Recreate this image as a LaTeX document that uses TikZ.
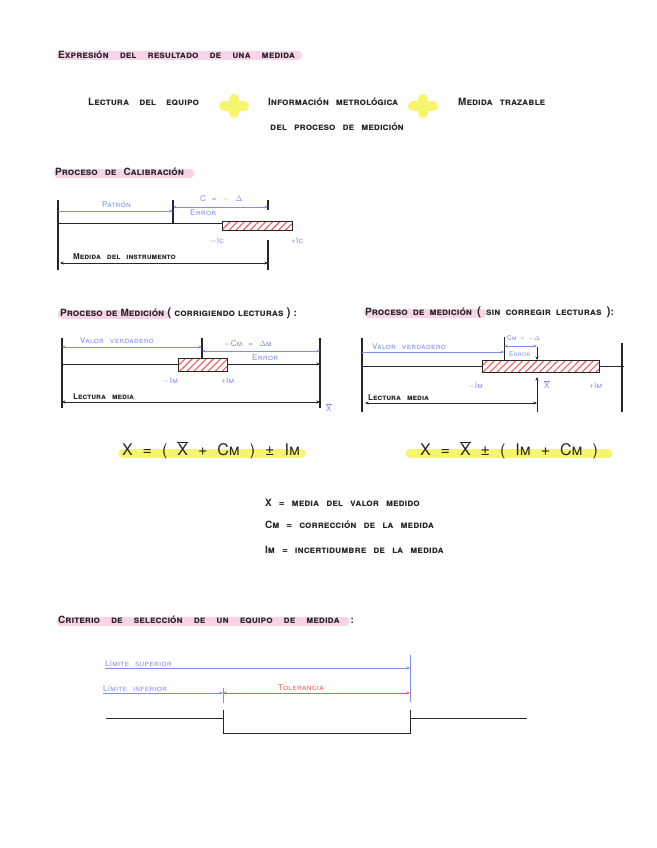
\documentclass[tikz,border=0pt]{standalone}
\usepackage{fontspec}
\setmainfont{TeX Gyre Heros}
\usetikzlibrary{patterns.meta,arrows.meta}
\definecolor{hpink}{HTML}{F9D3E8}
\definecolor{hyellow}{HTML}{F7F56E}
\definecolor{hblue}{HTML}{7F8DF2}
\definecolor{hred}{HTML}{F25A5A}
\newcommand\hwfont{\fontsize{10}{11}\selectfont\bfseries\scshape\spaceskip=7pt\relax}
\newcommand\hwfontn{\fontsize{10}{11}\selectfont\bfseries\scshape\spaceskip=5pt\relax}
\newcommand\hwsmall{\fontsize{8}{9}\selectfont\scshape\addfontfeatures{LetterSpace=4}\spaceskip=6pt\relax}
\newcommand\hwsmallb{\fontsize{8}{9}\selectfont\bfseries\scshape\spaceskip=6pt\relax}
\newcommand\hwtiny{\fontsize{6.5}{7}\selectfont\scshape\addfontfeatures{LetterSpace=4}\spaceskip=4pt\relax}
\newcommand\hwform{\fontsize{16}{18}\selectfont\scshape\spaceskip=10pt\relax}
\newcommand\xbar{$\overline{\mbox{X}}$}
\tikzset{
 x=1pt,y=-1pt,
 hw/.style={inner sep=0pt, anchor=west, font=\hwfont, text=black!85},
 hwn/.style={inner sep=0pt, anchor=west, font=\hwfontn, text=black!85},
 hws/.style={inner sep=0pt, anchor=west, font=\hwsmallb, text=black!85},
 bl/.style={inner sep=0pt, anchor=west, font=\hwsmall, text=hblue},
 blt/.style={inner sep=0pt, anchor=west, font=\hwtiny, text=hblue},
 rl/.style={inner sep=0pt, anchor=west, font=\hwsmall, text=hred},
 frm/.style={inner sep=0pt, font=\hwform, text=black!85},
 ln/.style={line width=0.9pt, black!85},
 bar/.style={line width=1.3pt, black!85},
 barr/.style={hblue, line width=0.7pt},
 tip/.style={-{Stealth[length=3.5pt,width=3pt]}},
 tips/.style={{Stealth[length=3.5pt,width=3pt]}-{Stealth[length=3.5pt,width=3pt]}},
 hatch/.style={draw=black!85, line width=0.9pt, pattern={Lines[angle=45,distance=5pt,line width=1.1pt]}, pattern color=hred},
 hlp/.style={line width=9pt, line cap=round, hpink},
 hly/.style={line width=9pt, line cap=round, hyellow},
 plusarm/.style={line width=10pt, line cap=round, hyellow},
}
\begin{document}
\begin{tikzpicture}
\useasboundingbox (0,0) rectangle (656,848);
% ---- Title 1
\draw[hlp] (61,56) -- (298,56);
\node[hw] (t1) at (58,55) {\spaceskip=11pt\relax Expresión del resultado de una medida};
% ---- row 2
\node[hw] (r1) at (88,102) {\spaceskip=10pt\relax Lectura del equipo};
\draw[plusarm] (224,106) -- (244,106);
\draw[plusarm] (234,99) -- (234,113);
\node[hw] (r2) at (268,102) {Información metrológica};
\node[hw] (r3) at (270,127) {del proceso de medición};
\draw[plusarm] (413,106) -- (433,106);
\draw[plusarm] (423,99) -- (423,113);
\node[hw] (r4) at (458,102) {Medida trazable};
% ---- Calibration
\draw[hlp] (58,173) -- (190,173);
\node[hw] (t2) at (55,172) {Proceso de Calibración};
\draw[bar] (58,200) -- (58,270);
\draw[bar] (173,200) -- (173,223);
\draw[bar] (268,200) -- (268,210);
\draw[bar] (268,240) -- (268,270);
\draw[ln] (58,223) -- (222,223);
\draw[hatch] (222,221) rectangle (292,230);
\draw[barr,tip] (58,211) -- (173,211);
\node[bl] (c1) at (102,205) {Patrón};
\draw[barr,tips] (173,207) -- (268,207);
\node[bl] (c2) at (200,199) {C = $-$ $\Delta$};
\node[bl] (c3) at (190,213) {Error};
\node[bl] (c4) at (210,241) {$-$Ic};
\node[bl] (c5) at (291,241) {+Ic};
\draw[ln,tips] (60,263) -- (268,263);
\node[hws] (c6) at (73,257) {Medida del instrumento};
% ---- Measurement left
\draw[hlp] (62,314) -- (165,314);
\node[hw] (t3) at (60,313) {\spaceskip=3pt\relax Proceso de Medición {\fontsize{12}{12}\selectfont(} corrigiendo lecturas {\fontsize{12}{12}\selectfont)} :};
\draw[bar] (62,338) -- (62,408);
\draw[bar] (202,338) -- (202,358);
\draw[bar] (320,338) -- (320,408);
\draw[ln] (62,364) -- (178,364);
\draw[ln,tip] (227,364) -- (320,364);
\draw[hatch] (178,358) rectangle (227,371);
\draw[barr,tips] (62,347) -- (202,347);
\node[bl] (m1) at (80,341) {Valor verdadero};
\draw[barr,tips] (202,351) -- (320,351);
\node[bl] (m2) at (224,344) {$-$Cm = $\Delta$m};
\node[bl] (m3) at (252,358) {Error};
\node[bl] (m4) at (163,381) {$-$Im};
\node[bl] (m5) at (221,381) {+Im};
\draw[ln,tips] (62,402) -- (320,402);
\node[hws] (m6) at (73,397) {Lectura media};
\node[bl] (m7) at (326,408) {\xbar};
% ---- Measurement right
\draw[hlp] (368,313) -- (482,313);
\node[hwn] (t4) at (365,312) {Proceso de medición {\fontsize{12}{12}\selectfont(} sin corregir lecturas {\fontsize{12}{12}\selectfont)}:};
\draw[bar] (362,338) -- (362,412);
\draw[bar] (622,343) -- (622,412);
\draw[ln] (362,366) -- (482,366);
\draw[ln] (599,366) -- (624,366);
\draw[hatch] (482,360) rectangle (599,372);
\draw[ln] (504,337) -- (504,360);
\draw[barr,tip] (362,352) -- (504,352);
\node[bl] (n1) at (372,347) {Valor verdadero};
\node[blt] (n2) at (507,338) {Cm = $-\Delta$};
\draw[barr,tips] (504,346) -- (537,346);
\node[blt] (n3) at (509,354) {Error};
\draw[ln,tip] (537,347) -- (537,360);
\draw[ln,tip] (537,412) -- (537,377);
\node[bl] (n4) at (544,385) {\xbar};
\node[bl] (n5) at (468,386) {$-$Im};
\node[bl] (n6) at (589,386) {+Im};
\draw[ln,tips] (365,403) -- (537,403);
\node[hws] (n7) at (368,398) {Lectura media};
% ---- Formulas
\draw[hly] (123,453) -- (301,453);
\node[frm] (f1) at (211,450) {X = ( \xbar{} + Cm ) ± Im};
\draw[hly] (410,453) -- (608,453);
\node[frm] (f2) at (509,450) {X = \xbar{} ± ( Im + Cm )};
% ---- Legend
\node[hw] (l1) at (265,503) {X = media del valor medido};
\node[hw] (l2) at (265,525) {Cm = corrección de la medida};
\node[hw] (l3) at (265,550) {Im = incertidumbre de la medida};
% ---- Criterio
\draw[hlp] (61,621) -- (345,621);
\node[hw] (t5) at (58,620) {\spaceskip=11pt\relax Criterio de selección de un equipo de medida :};
\node[bl] (k1) at (105,664) {Límite superior};
\draw[barr,tip] (105,668) -- (410,668);
\draw[barr] (410,655) -- (410,702);
\node[bl] (k2) at (103,689) {Límite inferior};
\draw[barr,tip] (103,693) -- (223,693);
\draw[barr] (223,688) -- (223,703);
\draw[hred,line width=0.7pt,tips] (223,693) -- (410,693);
\node[rl,anchor=center] (k3) at (301,688) {Tolerancia};
\draw[ln] (106,718) -- (223,718);
\draw[ln] (223,710) -- (223,733) -- (410,733) -- (410,710);
\draw[ln] (410,718) -- (527,718);
\end{tikzpicture}
\end{document}
